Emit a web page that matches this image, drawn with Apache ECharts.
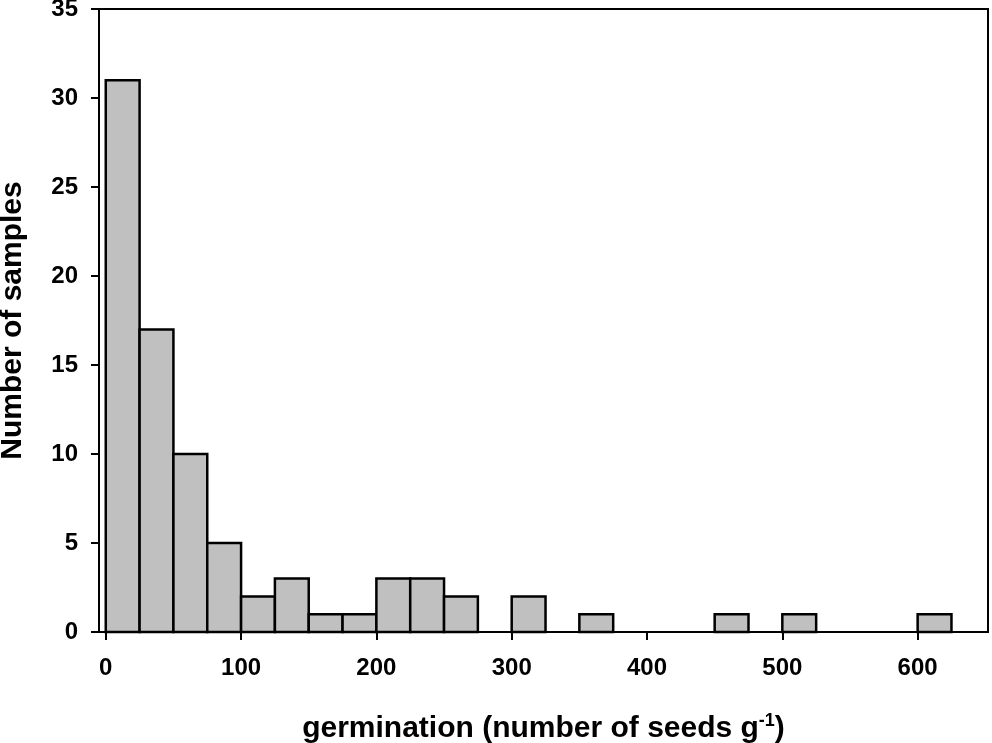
<!DOCTYPE html>
<html>
<head>
<meta charset="utf-8">
<script src="https://cdn.jsdelivr.net/npm/echarts@6/dist/echarts.min.js"></script>
<style>
  html, body { margin: 0; padding: 0; background: #fff; }
  #chart { width: 992px; height: 743px; }
</style>
</head>
<body>
<div id="chart"></div>
<script>
// bin starts (seeds per g), bin width 25
var binStarts = [0, 25, 50, 75, 100, 125, 150, 175, 200, 225, 250, 300, 350, 450, 500, 600];
var counts = [31, 17, 10, 5, 2, 3, 1, 1, 3, 3, 2, 2, 1, 1, 1, 1];
var binWidth = 25;
var xTicks = [0, 100, 200, 300, 400, 500, 600];

var chart = echarts.init(document.getElementById('chart'));

var data = binStarts.map(function (s, i) {
  return [s, s + binWidth, counts[i]];
});

var font = 'Liberation Sans, Arial, sans-serif';

chart.setOption({
  animation: false,
  grid: {
    left: 99, right: 4, top: 9, bottom: 111,
    outerBoundsMode: 'none',
    show: true, borderColor: '#000', borderWidth: 2
  },
  xAxis: {
    type: 'value',
    min: -5, max: 652,
    splitLine: { show: false },
    axisLine: { lineStyle: { color: '#000', width: 2 } },
    axisTick: { customValues: xTicks, length: 8, lineStyle: { color: '#000', width: 2 } },
    axisLabel: {
      customValues: xTicks, margin: 24,
      color: '#000', fontFamily: font, fontWeight: 'bold', fontSize: 24
    },
    name: 'germination (number of seeds g{sup|-1})',
    nameLocation: 'middle',
    nameGap: 80,
    nameTextStyle: {
      color: '#000', fontFamily: font, fontWeight: 'bold', fontSize: 30,
      rich: {
        sup: { fontFamily: font, fontWeight: 'bold', fontSize: 18, color: '#000', padding: [0, 0, 16, 0] }
      }
    }
  },
  yAxis: {
    type: 'value',
    min: 0, max: 35, interval: 5,
    splitLine: { show: false },
    axisLine: { show: true, onZero: false, lineStyle: { color: '#000', width: 2 } },
    axisTick: { show: true, length: 8, lineStyle: { color: '#000', width: 2 } },
    axisLabel: {
      margin: 21,
      color: '#000', fontFamily: font, fontWeight: 'bold', fontSize: 24
    },
    name: 'Number of samples',
    nameLocation: 'middle',
    nameGap: 71,
    nameTextStyle: { color: '#000', fontFamily: font, fontWeight: 'bold', fontSize: 30 }
  },
  series: [{
    type: 'custom',
    data: data,
    renderItem: function (params, api) {
      var p0 = api.coord([api.value(0), 0]);
      var p1 = api.coord([api.value(1), api.value(2)]);
      return {
        type: 'rect',
        shape: { x: p0[0], y: p1[1], width: p1[0] - p0[0], height: p0[1] - p1[1] },
        style: { fill: '#c0c0c0', stroke: '#000', lineWidth: 2.5 }
      };
    }
  }]
});
</script>
</body>
</html>
